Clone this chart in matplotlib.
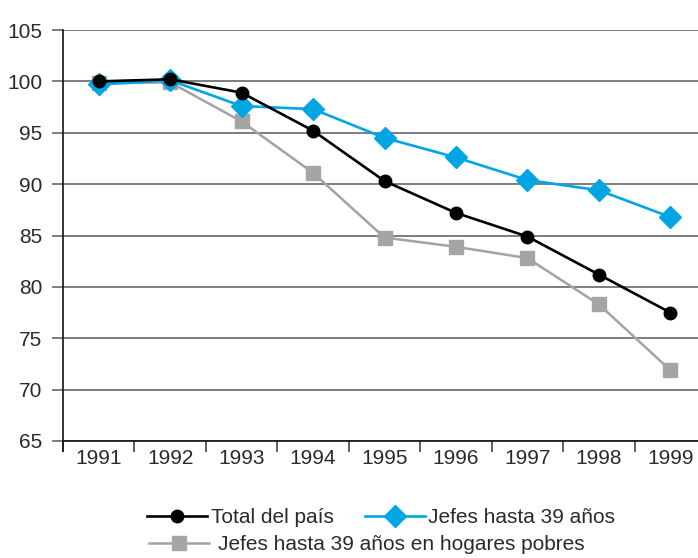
import numpy as np
import matplotlib.pyplot as plt
from matplotlib.ticker import FixedLocator

years = ['1991', '1992', '1993', '1994', '1995', '1996', '1997', '1998', '1999']
total_pais = [100.0, 100.2, 98.9, 95.2, 90.3, 87.2, 84.9, 81.2, 77.5]
jefes_39 = [99.7, 100.1, 97.6, 97.3, 94.5, 92.6, 90.4, 89.4, 86.8]
jefes_39_pobres = [99.8, 99.9, 96.1, 91.1, 84.8, 83.9, 82.8, 78.3, 71.9]
y_ticks = [65, 70, 75, 80, 85, 90, 95, 100, 105]

plt.rcParams['font.family'] = ['Liberation Sans', 'DejaVu Sans']
fs = 15

fig = plt.figure(figsize=(6.98, 5.58), dpi=100)
ax = fig.add_axes([63 / 698, 1 - 441 / 558, 643 / 698, 411 / 558])

x = np.arange(len(years))
l1, = ax.plot(x, total_pais, color='black', lw=1.9, marker='o', ms=9, zorder=5,
              label='Total del país')
l2, = ax.plot(x, jefes_39, color='#00A6E4', lw=1.9, marker='D', ms=11.5, zorder=4,
              label='Jefes hasta 39 años')
l3, = ax.plot(x, jefes_39_pobres, color='#A2A2AC', lw=1.8, marker='s', ms=10.5,
              mfc='#A5A5A5', mec='#A5A5A5', zorder=3,
              label='Jefes hasta 39 años en hogares pobres')

ax.set_xlim(-0.5, len(years) - 0.5)
ax.set_ylim(65, 105)
ax.set_yticks(y_ticks)
ax.yaxis.grid(True, color='#5a5a5a', lw=1.1)
ax.set_axisbelow(True)

ax.xaxis.set_major_locator(FixedLocator(np.arange(-0.5, len(years), 1.0)))
ax.xaxis.set_major_formatter(plt.NullFormatter())
ax.xaxis.set_minor_locator(FixedLocator(x))
ax.set_xticklabels(years, minor=True)
ax.tick_params(axis='x', which='major', direction='out', length=8, width=1.1, color='#333333')
ax.tick_params(axis='x', which='minor', length=0, pad=6, labelsize=fs, labelcolor='#2a2a2a')
ax.tick_params(axis='y', direction='out', length=8, width=1.1, color='#5a5a5a',
               pad=7, labelsize=fs, labelcolor='#2a2a2a')

for s in ['top', 'right']:
    ax.spines[s].set_visible(False)
ax.spines['left'].set_color('#111111')
ax.spines['bottom'].set_color('#111111')
ax.spines['left'].set_linewidth(1.2)
ax.spines['bottom'].set_linewidth(1.2)
ax.spines['left'].set_bounds(64.0, 105)

leg1 = fig.legend(handles=[l1, l2], loc='upper left', bbox_to_anchor=(147 / 698, 1 - 508 / 558),
                  ncol=2, frameon=False, fontsize=fs, handlelength=2.9, handletextpad=0.15,
                  columnspacing=1.5, borderaxespad=0, borderpad=0)
leg2 = fig.legend(handles=[l3], loc='upper left', bbox_to_anchor=(149 / 698, 1 - 535 / 558),
                  frameon=False, fontsize=fs, handlelength=2.9, handletextpad=0.4,
                  borderaxespad=0, borderpad=0)
for leg in (leg1, leg2):
    for t in leg.get_texts():
        t.set_color('#2a2a2a')

fig.savefig('out.png', dpi=100)
